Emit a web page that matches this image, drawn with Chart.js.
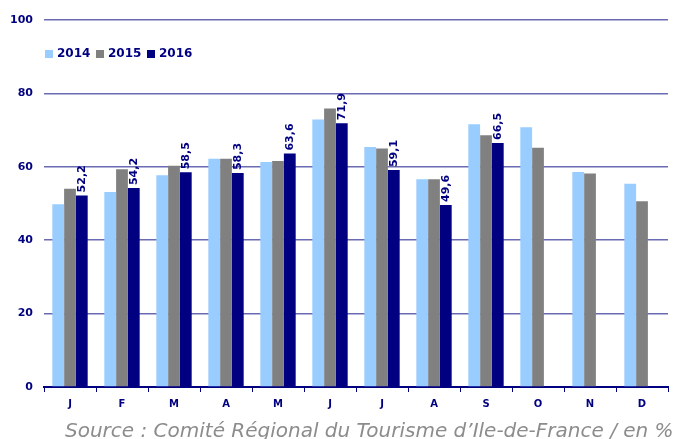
<!DOCTYPE html>
<html>
<head>
<meta charset="utf-8">
<script src="https://cdn.jsdelivr.net/npm/chart.js@4"></script>
<style>
    html, body { margin: 0; padding: 0; background: #fff; }
    #wrap { position: relative; width: 675px; height: 439px; }
</style>
</head>
<body>
<div id="wrap"><canvas id="tauxChart" width="675" height="439"></canvas></div>
<script>
// Données (taux d'occupation, en %)
const mois = ["J", "F", "M", "A", "M", "J", "J", "A", "S", "O", "N", "D"];
const annees = ["2014", "2015", "2016"];
const taux2014 = [49.8, 53.1, 57.7, 62.2, 61.3, 72.9, 65.4, 56.6, 71.6, 70.8, 58.6, 55.4];
const taux2015 = [54.0, 59.3, 60.3, 62.2, 61.6, 75.9, 65.0, 56.6, 68.6, 65.2, 58.2, 50.6];
const taux2016 = [52.2, 54.2, 58.5, 58.3, 63.6, 71.9, 59.1, 49.6, 66.5, null, null, null];
const yTicks = [0, 20, 40, 60, 80, 100];
const source = "Source : Comité Régional du Tourisme d’Ile-de-France / en %";

const bleuClair = "#99ccff";
const gris = "#808080";
const marine = "#000080";
const grille = "#6b6bb3";

// Étiquettes verticales au-dessus des barres 2016
const etiquettes2016 = {
    id: "etiquettes2016",
    afterDatasetsDraw(chart) {
        const ctx = chart.ctx;
        const meta = chart.getDatasetMeta(2);
        ctx.save();
        ctx.font = "bold 11px 'DejaVu Sans'";
        ctx.fillStyle = marine;
        ctx.textAlign = "left";
        ctx.textBaseline = "middle";
        meta.data.forEach((bar, i) => {
            const v = taux2016[i];
            if (v === null) return;
            ctx.save();
            ctx.translate(bar.x, bar.y - 3);
            ctx.rotate(-Math.PI / 2);
            ctx.fillText(v.toFixed(1).replace(".", ","), 0, 0);
            ctx.restore();
        });
        ctx.restore();
    }
};

// Légende dans la zone du graphique + source en bas
const legendeEtSource = {
    id: "legendeEtSource",
    afterDraw(chart) {
        const ctx = chart.ctx;
        ctx.save();
        ctx.font = "bold 12px 'DejaVu Sans'";
        ctx.textBaseline = "middle";
        let x = 45;
        const y = 54;
        chart.data.datasets.forEach(ds => {
            ctx.fillStyle = ds.backgroundColor;
            ctx.fillRect(x, y - 4, 8, 8);
            ctx.fillStyle = marine;
            ctx.fillText(ds.label, x + 12, y);
            x += 51;
        });
        ctx.font = "italic 20px 'DejaVu Sans'";
        ctx.fillStyle = "#8c8c8c";
        ctx.textBaseline = "alphabetic";
        ctx.fillText(source, 65, 437);
        ctx.restore();
    }
};

const ctx = document.getElementById("tauxChart").getContext("2d");
new Chart(ctx, {
    type: "bar",
    data: {
        labels: mois,
        datasets: [
            { label: annees[0], data: taux2014, backgroundColor: bleuClair },
            { label: annees[1], data: taux2015, backgroundColor: gris },
            { label: annees[2], data: taux2016, backgroundColor: marine }
        ]
    },
    options: {
        responsive: false,
        animation: false,
        layout: { padding: { top: 20, right: 7, bottom: 22, left: 0 } },
        datasets: {
            bar: { categoryPercentage: 0.68, barPercentage: 1.0 }
        },
        plugins: {
            legend: { display: false },
            tooltip: { enabled: false }
        },
        scales: {
            x: {
                afterFit: scale => { scale.height = 30; },
                grid: {
                    offset: true,
                    drawOnChartArea: false,
                    color: marine,
                    tickLength: 5,
                    lineWidth: 1
                },
                border: { color: marine, width: 2 },
                ticks: {
                    color: marine,
                    font: { family: "DejaVu Sans", size: 10, weight: "bold" },
                    padding: 6
                }
            },
            y: {
                min: 0,
                max: 100,
                afterFit: scale => { scale.width = 44; },
                afterBuildTicks: scale => { scale.ticks = yTicks.map(v => ({ value: v })); },
                grid: { color: grille, lineWidth: 1.5, drawTicks: false },
                border: { display: false },
                ticks: {
                    color: marine,
                    font: { family: "DejaVu Sans", size: 11, weight: "bold" },
                    padding: 11
                }
            }
        }
    },
    plugins: [etiquettes2016, legendeEtSource]
});
</script>
</body>
</html>
